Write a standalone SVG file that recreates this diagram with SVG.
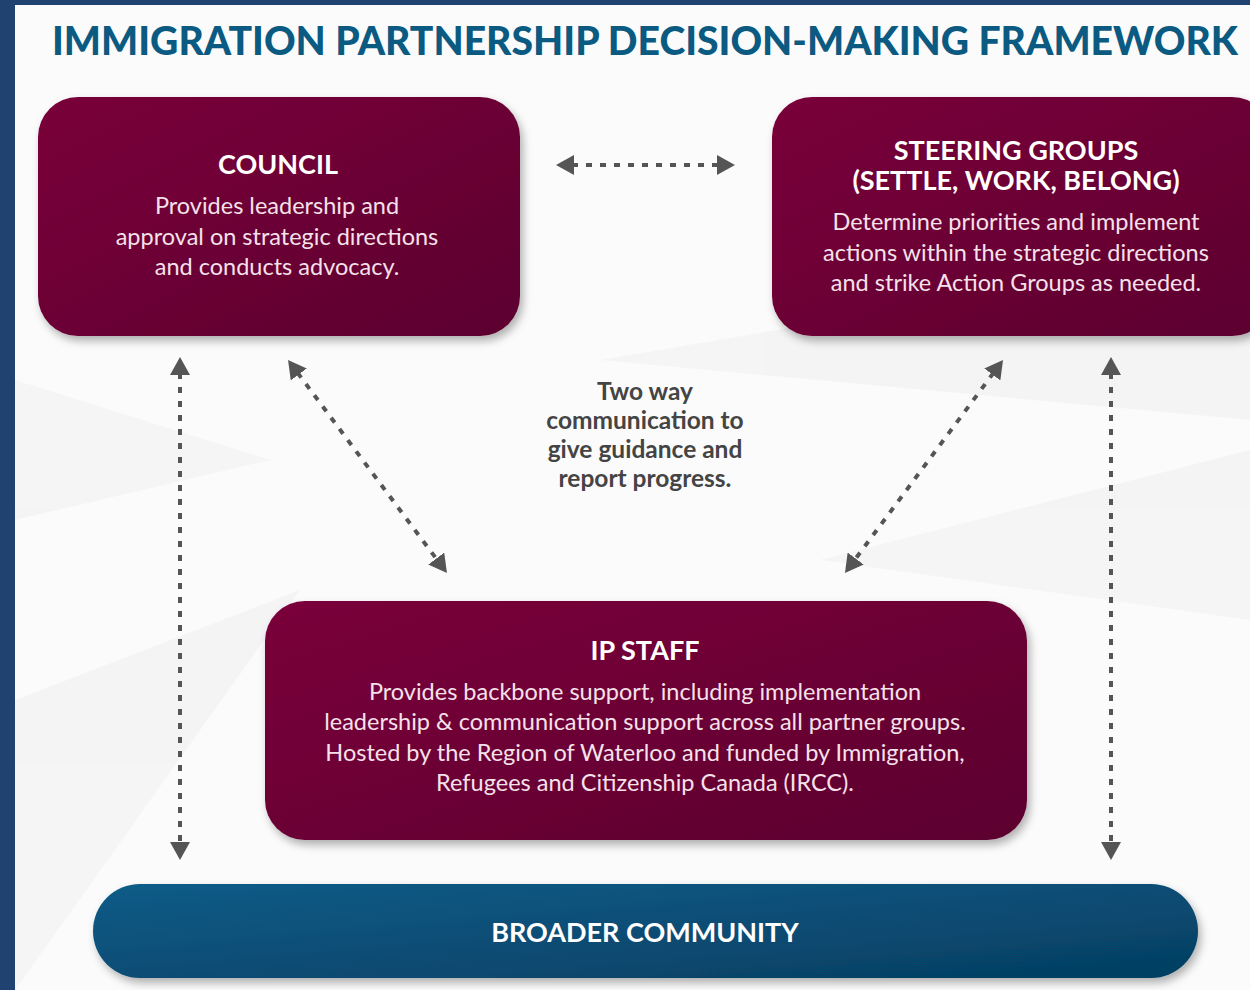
<svg xmlns="http://www.w3.org/2000/svg" width="1250" height="990" viewBox="0 0 1250 990">
<defs>
<linearGradient id="maroon" x1="0" y1="0" x2="1" y2="1">
<stop offset="0" stop-color="#7a003a"/>
<stop offset="1" stop-color="#5c002f"/>
</linearGradient>
<linearGradient id="blue" x1="0" y1="0" x2="1" y2="1">
<stop offset="0" stop-color="#0c5c88"/>
<stop offset="1" stop-color="#053e61"/>
</linearGradient>
<filter id="shadow" x="-10%" y="-10%" width="120%" height="130%">
<feDropShadow dx="3" dy="5" stdDeviation="4" flood-color="#000" flood-opacity="0.3"/>
</filter>
<marker id="arr" viewBox="0 0 18 20" markerUnits="userSpaceOnUse" markerWidth="18" markerHeight="20" refX="2" refY="10" orient="auto-start-reverse">
<path d="M0,0 L18,10 L0,20 z" fill="#555"/>
</marker>
<style>
.box{fill:url(#maroon);filter:url(#shadow);}
.ttl{font-family:Lato,"Open Sans",sans-serif;font-weight:700;fill:#fff;font-size:27px;text-anchor:middle;}
.body{font-family:Lato,"Open Sans",sans-serif;font-weight:400;fill:#f5e1ea;font-size:23.5px;text-anchor:middle;}
.mid{font-family:Lato,"Open Sans",sans-serif;font-weight:700;fill:#444;font-size:24.5px;text-anchor:middle;}
.conn{stroke:#555;stroke-width:4;stroke-dasharray:6 8;fill:none;marker-start:url(#arr);marker-end:url(#arr);}
</style>
</defs>
<rect x="0" y="0" width="1250" height="990" fill="#1f4270"/>
<rect x="15" y="5" width="1235" height="985" fill="#fbfbfb"/>
<g id="background" fill="#f1f1f2" opacity="0.6">
<polygon points="15,700 300,590 15,990"/>
<polygon points="600,360 1250,250 1250,420"/>
<polygon points="15,380 270,460 15,520"/>
<polygon points="820,560 1250,450 1250,620"/>
</g>
<text x="645" y="55" font-family="Lato,'Open Sans',sans-serif" font-weight="900" font-size="39" fill="#0b5a82" text-anchor="middle" textLength="1186" lengthAdjust="spacingAndGlyphs">IMMIGRATION PARTNERSHIP DECISION-MAKING FRAMEWORK</text>
<g id="council">
<rect class="box" x="38" y="97" width="482" height="239" rx="40"/>
<text class="ttl" x="278" y="174">COUNCIL</text>
<text class="body" x="277" y="214">Provides leadership and</text>
<text class="body" x="277" y="245">approval on strategic directions</text>
<text class="body" x="277" y="275">and conducts advocacy.</text>
</g>
<g id="steering">
<rect class="box" x="772" y="97" width="500" height="239" rx="40"/>
<text class="ttl" x="1016" y="160">STEERING GROUPS</text>
<text class="ttl" x="1016" y="190">(SETTLE, WORK, BELONG)</text>
<text class="body" x="1016" y="230">Determine priorities and implement</text>
<text class="body" x="1016" y="261">actions within the strategic directions</text>
<text class="body" x="1016" y="291">and strike Action Groups as needed.</text>
</g>
<g id="ipstaff">
<rect class="box" x="265" y="601" width="762" height="239" rx="40"/>
<text class="ttl" x="645" y="660">IP STAFF</text>
<text class="body" x="645" y="700">Provides backbone support, including implementation</text>
<text class="body" x="645" y="730">leadership &amp; communication support across all partner groups.</text>
<text class="body" x="645" y="761">Hosted by the Region of Waterloo and funded by Immigration,</text>
<text class="body" x="645" y="791">Refugees and Citizenship Canada (IRCC).</text>
</g>
<g id="community">
<rect x="93" y="884" width="1105" height="94" rx="47" fill="url(#blue)" filter="url(#shadow)"/>
<text class="ttl" x="645" y="942" style="font-size:27px">BROADER COMMUNITY</text>
</g>
<g id="label">
<text class="mid" x="645" y="400">Two way</text>
<text class="mid" x="645" y="429">communication to</text>
<text class="mid" x="645" y="458">give guidance and</text>
<text class="mid" x="645" y="487">report progress.</text>
</g>
<g id="connectors">
<line class="conn" x1="572" y1="165" x2="719" y2="165"/>
<line class="conn" x1="180" y1="373" x2="180" y2="844"/>
<line class="conn" x1="1111" y1="373" x2="1111" y2="844"/>
<line class="conn" x1="297.6" y1="372.8" x2="437.4" y2="560.2"/>
<line class="conn" x1="993.5" y1="372.85" x2="854.5" y2="560.15"/>
</g>
</svg>
